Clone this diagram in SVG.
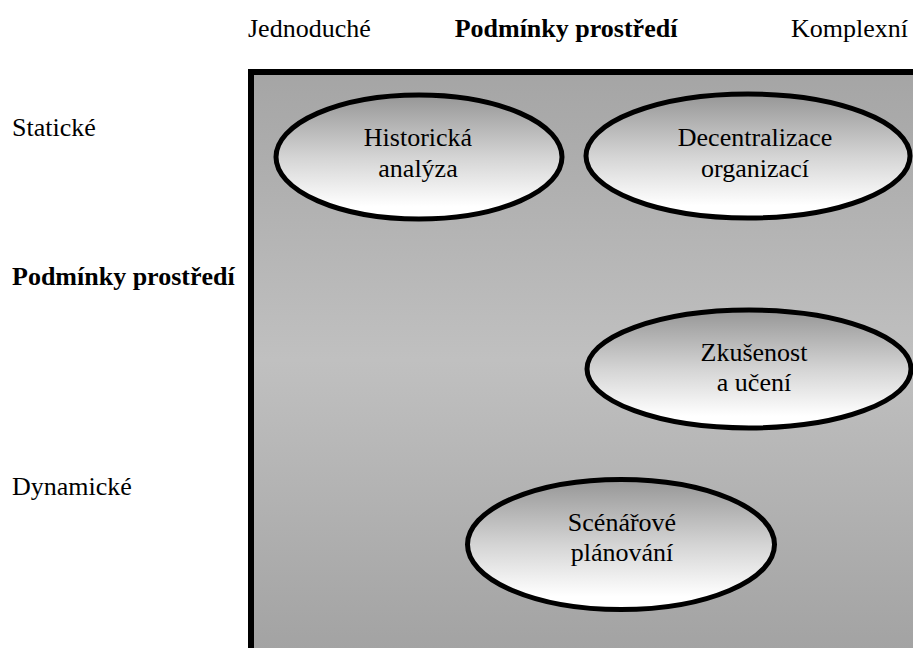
<svg xmlns="http://www.w3.org/2000/svg" width="913" height="648" viewBox="0 0 913 648">
  <defs>
    <linearGradient id="panelFill" gradientUnits="userSpaceOnUse" x1="0" y1="72" x2="0" y2="648">
      <stop offset="0" stop-color="#a5a5a5"/>
      <stop offset="0.5" stop-color="#c0c0c0"/>
      <stop offset="1" stop-color="#a3a3a3"/>
    </linearGradient>
    <linearGradient id="ovalFill" x1="0" y1="0" x2="0" y2="1">
      <stop offset="0" stop-color="#969696"/>
      <stop offset="0.5" stop-color="#d4d4d4"/>
      <stop offset="0.9" stop-color="#ffffff"/>
    </linearGradient>
    <style>
      .mid { text-anchor: middle; }
      .oval { fill: url(#ovalFill); stroke: #000; stroke-width: 5; }
      .panel { fill: url(#panelFill); stroke: #000; stroke-width: 6; }
    </style>
  </defs>

  <rect width="913" height="648" fill="#fff"/>

  <g font-family="Liberation Serif, Tinos, DejaVu Serif, serif" font-size="26" fill="#000">
    <!-- axis labels -->
    <g id="axis-labels">
      <text x="248" y="37">Jednoduché</text>
      <text x="566" y="37" font-weight="bold" text-anchor="middle">Podmínky prostředí</text>
      <text x="791" y="37">Komplexní</text>
      <text x="12" y="136">Statické</text>
      <text x="12" y="285" font-weight="bold">Podmínky prostředí</text>
      <text x="12" y="495">Dynamické</text>
    </g>

    <!-- shaded field -->
    <rect id="field" class="panel" x="251" y="72" width="680" height="600"/>

    <g id="connectors"/>

    <g id="historicka-analyza">
      <ellipse class="oval" cx="419" cy="157" rx="143" ry="62"/>
      <text class="mid" x="418" y="146">Historická</text>
      <text class="mid" x="418" y="177">analýza</text>
    </g>

    <g id="decentralizace">
      <ellipse class="oval" cx="748" cy="156" rx="162" ry="62"/>
      <text class="mid" x="755" y="146">Decentralizace</text>
      <text class="mid" x="755" y="177">organizací</text>
    </g>

    <g id="zkusenost">
      <ellipse class="oval" cx="749" cy="369" rx="162" ry="59"/>
      <text class="mid" x="754" y="361">Zkušenost</text>
      <text class="mid" x="754" y="391">a učení</text>
    </g>

    <g id="scenarove-planovani">
      <ellipse class="oval" cx="621" cy="544.5" rx="153.5" ry="65"/>
      <text class="mid" x="622" y="531">Scénářové</text>
      <text class="mid" x="622" y="561">plánování</text>
    </g>
  </g>
</svg>
